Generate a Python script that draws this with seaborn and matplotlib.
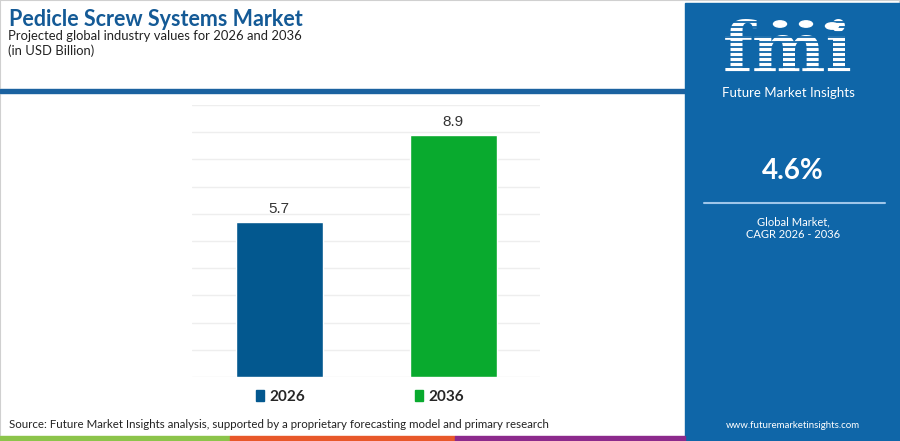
import pandas as pd
import matplotlib.pyplot as plt
import seaborn as sns
from matplotlib.patches import Rectangle, Circle
from matplotlib.lines import Line2D

# data
years = ["2026", "2036"]
values = [5.7, 8.9]
bar_colors = ["#03588f", "#09aa2e"]
cagr_text = "4.6%"

title = "Pedicle Screw Systems Market"
subtitle = "Projected global industry values for 2026 and 2036"
unit_note = "(in USD Billion)"
source = ("Source: Future Market Insights analysis, supported by a proprietary "
          "forecasting model and primary research")

sns.set_theme(style="white")
plt.rcParams['font.family'] = ['Lato', 'DejaVu Sans']

panel_blue = "#0f66a8"
fig = plt.figure(figsize=(9, 4.41), dpi=100)
W, H = 900, 441


def fx(x):
    return x / W


def fy(y):
    return 1 - y / H


# frame, header rule, right panel, bottom strip
fig.patches.append(Rectangle((0, 0), 1, 1, transform=fig.transFigure,
                             fill=False, edgecolor="#d0d0d0", lw=1.5))
fig.patches.append(Rectangle((0, fy(93)), fx(686), 4 / H, transform=fig.transFigure,
                             color="#1b62a0", zorder=1))
fig.patches.append(Rectangle((fx(685), 0), fx(215), fy(3), transform=fig.transFigure,
                             color=panel_blue, zorder=1))
for x0, x1, c in [(0, 230, "#8cc44a"), (230, 455, "#e8582a"), (455, 685, "#8c2a8c")]:
    fig.patches.append(Rectangle((fx(x0), 0), fx(x1 - x0), 5 / H,
                                 transform=fig.transFigure, color=c, zorder=1))

# header text
fig.text(fx(9), fy(20), title, fontsize=15.5, fontweight="bold", color="#145a96",
         va="center", ha="left")
fig.text(fx(8), fy(36), subtitle, fontsize=9.4, color="#222222", va="center")
fig.text(fx(8), fy(51), unit_note, fontsize=9.4, color="#222222", va="center")

# panel: logo-like block
fig.text(fx(788), fy(86), "fmi", fontsize=50, fontweight="bold", color="white",
         ha="center", va="bottom", family=["DejaVu Serif"], zorder=3)
for yy in range(22, 80, 5):
    fig.add_artist(Line2D([fx(712), fx(866)], [fy(yy), fy(yy)], color=panel_blue,
                          lw=1.3, zorder=4))
for cx, cy in [(780, 24), (806, 24), (832, 26)]:
    fig.add_artist(Circle((fx(cx), fy(cy)), 6.5 / W, transform=fig.transFigure,
                          color="white", zorder=5))
fig.text(fx(788), fy(93), "Future Market Insights", fontsize=9.5, color="white",
         ha="center", va="center", zorder=3)
fig.text(fx(793), fy(171), cagr_text, fontsize=20, fontweight="bold", color="white",
         ha="center", va="center", zorder=3)
fig.add_artist(Line2D([fx(704), fx(885)], [fy(203), fy(203)], color="#9fc6ea",
                      lw=1.5, zorder=3))
fig.text(fx(793), fy(222), "Global Market,", fontsize=8, color="white",
         ha="center", va="center", zorder=3)
fig.text(fx(793), fy(234), "CAGR 2026 - 2036", fontsize=8, color="white",
         ha="center", va="center", zorder=3)
fig.text(fx(793), fy(425), "www.futuremarketinsights.com", fontsize=7, color="white",
         ha="center", va="center", zorder=3)

fig.text(fx(9), fy(425), source, fontsize=8.3, color="#222222", va="center")

# chart
ax = fig.add_axes([fx(192), fy(377), fx(348), 272 / H])
df = pd.DataFrame({"Year": years, "Value": values})
sns.barplot(data=df, x="Year", y="Value", hue="Year", palette=bar_colors,
            width=0.5, legend=False, ax=ax, zorder=2, saturation=1)
ax.set_ylim(0, 10)
ax.set_xlim(-0.5, 1.5)
ax.set_yticks(range(0, 11))
ax.yaxis.grid(True, color="#eeeeee", lw=1, zorder=0)
ax.set_axisbelow(True)
ax.tick_params(left=False, bottom=False, labelleft=False, labelbottom=False)
ax.set_xlabel("")
ax.set_ylabel("")
sns.despine(ax=ax, left=True, bottom=True)

for cont in ax.containers:
    ax.bar_label(cont, fmt="%.1f", padding=4, fontsize=11, color="#333333",
                 family=["Liberation Sans", "DejaVu Sans"])

handles = [Rectangle((0, 0), 1, 1, color=c) for c in bar_colors]
leg = fig.legend(handles, years, loc="center", bbox_to_anchor=(fx(360), fy(397)),
                 ncol=2, frameon=False, handlelength=0.55, handleheight=0.7,
                 handletextpad=0.35, columnspacing=7.2,
                 prop={"weight": "bold", "size": 11})

fig.savefig("out.png", dpi=100)
